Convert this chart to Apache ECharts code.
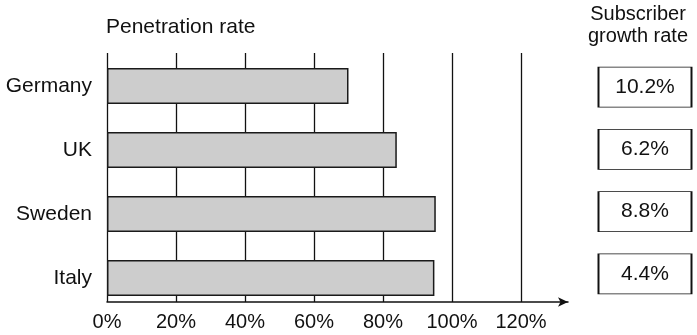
<!DOCTYPE html>
<html>
<head>
<meta charset="utf-8">
<script src="https://cdn.jsdelivr.net/npm/echarts@6/dist/echarts.min.js"></script>
<style>
  html, body { margin: 0; padding: 0; background: #fff; }
  #chart { width: 697px; height: 335px; }
</style>
</head>
<body>
<div id="chart"></div>
<script>
// Mobile market: penetration rate per country, with subscriber growth rate alongside
const countries = ['Germany', 'UK', 'Sweden', 'Italy'];
const penetrationRates = [70.0, 84.0, 95.3, 94.9];   // %
const growthRates = [10.2, 6.2, 8.8, 4.4];           // %
const growthColumn = ['Subscriber growth rate'];
const rateTicks = [0, 20, 40, 60, 80, 100, 120];     // %

const FONT = '"Liberation Sans", Arial, Helvetica, sans-serif';
const INK = '#111';

const chart = echarts.init(document.getElementById('chart'), null, { renderer: 'canvas' });

chart.setOption({
  animation: false,
  textStyle: { fontFamily: FONT },
  title: [
    {
      text: 'Penetration rate', left: 106, top: 17, padding: 0,
      textStyle: { fontSize: 21, fontWeight: 'normal', color: INK, fontFamily: FONT }
    },
    {
      text: 'Subscriber\ngrowth rate', left: 638, top: 3, padding: 0, textAlign: 'center',
      textStyle: { fontSize: 20, lineHeight: 22, fontWeight: 'normal', color: INK, fontFamily: FONT }
    }
  ],
  grid: [
    { left: 107, right: 176, top: 53, bottom: 33 },  // percentage scale and vertical gridlines
    { left: 107, right: 176, top: 54, bottom: 25 },  // country bars
    { left: 598, right: 5, top: 56, bottom: 30 },    // growth-rate boxes
    { left: 107, right: 129, top: 53, bottom: 33 }   // baseline with arrow
  ],
  xAxis: [
    {
      gridIndex: 0, type: 'value',
      min: rateTicks[0], max: rateTicks[rateTicks.length - 1], interval: rateTicks[1] - rateTicks[0],
      axisLine: { show: false }, axisTick: { show: false },
      splitLine: { show: true, lineStyle: { color: INK, width: 1.3 } },
      axisLabel: { fontSize: 20, color: INK, margin: 10, fontFamily: FONT, formatter: '{value}%' }
    },
    {
      gridIndex: 1, type: 'value', show: false,
      min: rateTicks[0], max: rateTicks[rateTicks.length - 1]
    },
    { gridIndex: 2, type: 'category', data: growthColumn, show: false },
    {
      gridIndex: 3, type: 'value', min: 0, max: 1,
      axisLine: { show: true, symbol: ['none', 'arrow'], symbolSize: [7, 10], lineStyle: { color: INK, width: 1.5 } },
      axisTick: { show: false }, axisLabel: { show: false }, splitLine: { show: false }
    }
  ],
  yAxis: [
    { gridIndex: 0, type: 'value', show: false },
    {
      gridIndex: 1, type: 'category', data: countries, inverse: true,
      axisLine: { show: false }, axisTick: { show: false }, splitLine: { show: false },
      axisLabel: { fontSize: 21, color: INK, margin: 15, fontFamily: FONT }
    },
    { gridIndex: 2, type: 'category', data: countries, inverse: true, show: false },
    { gridIndex: 3, type: 'value', show: false }
  ],
  series: [
    {
      type: 'bar', xAxisIndex: 1, yAxisIndex: 1, silent: true,
      data: penetrationRates, barWidth: 36,
      itemStyle: { color: '#cdcdcd', borderColor: '#1a1a1a', borderWidth: 1.5 }
    },
    {
      type: 'scatter', xAxisIndex: 2, yAxisIndex: 2, silent: true,
      symbol: 'rect', symbolSize: [93, 40],
      data: countries.map((c, i) => [growthColumn[0], c, growthRates[i]]),
      itemStyle: { color: '#fff', borderColor: INK, borderWidth: 1.3, opacity: 1 },
      label: {
        show: true, position: 'inside', fontSize: 21, color: INK, fontFamily: FONT,
        formatter: p => p.value[2].toFixed(1) + '%'
      }
    }
  ]
});
</script>
</body>
</html>
